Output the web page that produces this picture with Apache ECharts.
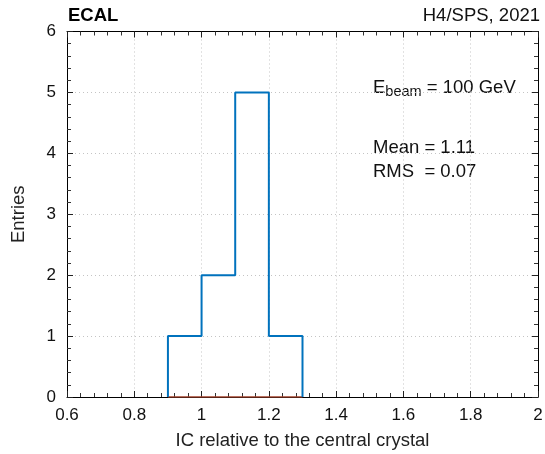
<!DOCTYPE html>
<html>
<head>
<meta charset="utf-8">
<script src="https://cdn.jsdelivr.net/npm/echarts@6/dist/echarts.min.js"></script>
<style>html,body{margin:0;padding:0;background:#fff;}#c{width:545px;height:454px;}</style>
</head>
<body>
<div id="c"></div>
<script>
// Histogram data
const binEdges = [0.9, 1.0, 1.1, 1.2, 1.3];
const binCounts = [1, 2, 5, 1];
const fitX = [0.9, 1.3];
const fitY = [0, 0];
const xTicks = { min: 0.6, max: 2.0, interval: 0.2 };
const yTicks = { min: 0, max: 6, interval: 1 };

const FONT = '"Liberation Sans", Arial, Helvetica, sans-serif';

// step outline built from bin edges and counts
const stepPts = [[binEdges[0], 0]];
for (let i = 0; i < binCounts.length; i++) {
  stepPts.push([binEdges[i], binCounts[i]]);
  stepPts.push([binEdges[i + 1], binCounts[i]]);
}
stepPts.push([binEdges[binEdges.length - 1], 0]);
const fitPts = fitX.map((x, i) => [x, fitY[i]]);

const tickCommon = { show: true, inside: true, length: 6, lineStyle: { color: '#222', width: 1 } };
const minorCommon = { show: true, splitNumber: 5, length: 4, lineStyle: { color: '#333', width: 1 } };

const chart = echarts.init(document.getElementById('c'), null, { renderer: 'canvas' });
chart.setOption({
  animation: false,
  backgroundColor: '#fff',
  grid: { left: 67, right: 7, top: 31.5, bottom: 57, containLabel: false, outerBoundsMode: 'none' },
  xAxis: [
    {
      type: 'value', min: xTicks.min, max: xTicks.max, interval: xTicks.interval,
      name: 'IC relative to the central crystal', nameLocation: 'middle', nameGap: 34,
      nameTextStyle: { fontFamily: FONT, fontSize: 18.5, color: '#222' },
      axisLine: { show: true, onZero: false, lineStyle: { color: '#000', width: 1 } },
      axisTick: tickCommon, minorTick: minorCommon,
      axisLabel: { fontFamily: FONT, fontSize: 17, color: '#111', margin: 10,
        formatter: v => String(Math.round(v * 10) / 10) },
      splitLine: { show: true, lineStyle: { type: [1, 3], color: '#c4c4c4', width: 1 } }
    },
    {
      type: 'value', position: 'top', min: xTicks.min, max: xTicks.max, interval: xTicks.interval,
      axisLine: { show: true, onZero: false, lineStyle: { color: '#000', width: 1 } },
      axisTick: tickCommon, minorTick: minorCommon,
      axisLabel: { show: false }, splitLine: { show: false }
    }
  ],
  yAxis: [
    {
      type: 'value', min: yTicks.min, max: yTicks.max, interval: yTicks.interval,
      name: 'Entries', nameLocation: 'middle', nameGap: 39, nameRotate: 90,
      nameTextStyle: { fontFamily: FONT, fontSize: 18.5, color: '#222' },
      axisLine: { show: true, onZero: false, lineStyle: { color: '#000', width: 1 } },
      axisTick: tickCommon, minorTick: minorCommon,
      axisLabel: { fontFamily: FONT, fontSize: 17, color: '#111', margin: 11 },
      splitLine: { show: true, lineStyle: { type: [1, 3], color: '#c4c4c4', width: 1 } }
    },
    {
      type: 'value', position: 'right', min: yTicks.min, max: yTicks.max, interval: yTicks.interval,
      axisLine: { show: true, onZero: false, lineStyle: { color: '#000', width: 1 } },
      axisTick: tickCommon, minorTick: minorCommon,
      axisLabel: { show: false }, splitLine: { show: false }
    }
  ],
  series: [
    {
      type: 'line', data: fitPts, xAxisIndex: 0, yAxisIndex: 0,
      symbol: 'none', lineStyle: { color: '#a2402a', width: 1.5 }, z: 3
    },
    {
      type: 'line', data: stepPts, xAxisIndex: 0, yAxisIndex: 0,
      symbol: 'none', lineStyle: { color: '#0072BD', width: 2 }, z: 4
    }
  ],
  graphic: [
    { type: 'text', left: 68, top: 6, style: { text: 'ECAL', font: 'bold 18.5px ' + FONT, fill: '#000' } },
    { type: 'text', right: 5, top: 6, style: { text: 'H4/SPS, 2021', font: '18.5px ' + FONT, fill: '#111' } },
    { type: 'text', left: 373, top: 77, style: {
        text: '{a|E}{b|beam}{a| = 100 GeV}',
        rich: {
          a: { fontFamily: FONT, fontSize: 18.5, lineHeight: 22, fill: '#111', verticalAlign: 'middle' },
          b: { fontFamily: FONT, fontSize: 14.5, lineHeight: 22, fill: '#111', padding: [7, 0, 0, 0] }
        } } },
    { type: 'text', left: 373, top: 138, style: { text: 'Mean = 1.11', font: '18.5px ' + FONT, fill: '#111' } },
    { type: 'text', left: 373, top: 162, style: { text: 'RMS  = 0.07', font: '18.5px ' + FONT, fill: '#111' } }
  ]
});
</script>
</body>
</html>
